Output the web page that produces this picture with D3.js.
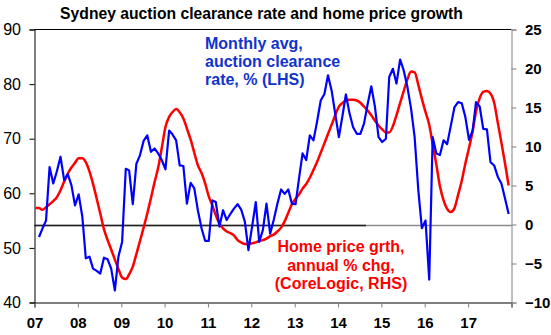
<!DOCTYPE html>
<html><head><meta charset="utf-8">
<script src="https://cdn.jsdelivr.net/npm/d3@7"></script>
<style>body{margin:0;background:#fff}svg{display:block}</style>
</head><body><svg id="c" width="551" height="335"></svg>
<script>
// ---------- data ----------
const title = "Sydney auction clearance rate and home price growth";
const clearanceStart = [2007, 1];   // first month (Feb 2007)
const clearanceRate = [
  52.0,53.5,55.0,64.8,61.8,64.0,66.7,62.4,63.5,61.5,57.8,
  59.8,55.7,48.1,48.4,46.2,45.8,45.3,48.2,47.9,46.2,42.2,48.4,
  51.1,64.5,64.2,58.0,65.4,67.0,69.6,70.6,67.6,68.2,67.3,66.1,
  64.4,71.5,70.8,69.7,65.1,65.0,58.1,61.9,60.9,56.9,53.6,51.3,
  51.3,58.7,58.4,53.9,56.9,55.1,56.2,57.2,58.0,57.0,54.8,49.6,
  53.9,58.4,51.1,53.3,58.1,52.6,55.1,58.1,60.7,59.9,60.7,58.1,
  58.0,63.0,67.3,66.1,70.6,69.7,73.1,77.0,78.2,81.6,78.8,74.6,
  70.3,74.3,78.1,74.6,72.1,70.9,70.9,72.8,76.4,79.6,75.8,70.3,
  69.4,70.0,81.3,82.8,80.1,84.5,82.5,79.5,75.5,70.3,60.6,53.6,
  55.0,44.2,70.3,67.3,67.0,69.7,69.0,72.4,75.8,76.7,76.5,74.0,
  69.8,71.5,76.7,75.9,71.8,71.7,65.7,65.1,63.0,61.8,59.0,56.2
];
const priceStart = [2007, 0];       // first month (Jan 2007)
const priceGrowth = [
  2.1,2.1,1.9,2.2,2.6,3.0,3.5,4.4,5.5,6.5,7.3,7.9,
  8.5,8.5,8.0,6.8,5.2,3.3,1.4,-0.6,-2.0,-3.2,-4.5,-5.7,
  -6.8,-7.0,-6.4,-5.4,-3.8,-2.1,-0.4,1.4,3.4,5.4,7.3,9.8,
  12.5,13.8,14.4,14.8,14.4,13.6,12.3,10.9,9.2,7.6,6.6,5.3,
  3.6,2.4,1.2,0.1,-0.5,-0.9,-1.1,-1.4,-2.0,-2.3,-2.5,-2.5,
  -2.4,-2.3,-2.1,-2.0,-1.8,-1.5,-1.3,-0.9,-0.4,0.4,1.5,2.6,
  3.3,3.9,4.6,5.2,6.0,7.0,8.0,9.2,10.4,11.6,12.8,14.0,
  15.1,15.6,15.9,16.0,16.0,15.9,15.6,15.1,14.6,14.0,13.3,12.7,
  12.2,11.8,11.8,12.6,14.0,15.6,17.1,18.6,19.6,19.5,17.9,16.1,
  14.4,12.8,10.3,7.7,4.9,3.1,2.0,1.6,2.1,3.8,5.6,7.8,
  9.8,12.0,14.5,16.2,17.0,17.1,16.8,15.6,13.0,10.5,7.8,5.0
];
const xTickYears = [2007,2008,2009,2010,2011,2012,2013,2014,2015,2016,2017,2018];
const xTickLabels = ["07","08","09","10","11","12","13","14","15","16","17",""];
const leftTicks = [40,50,60,70,80,90];
const rightTicks = [-10,-5,0,5,10,15,20,25];
const lhsLabel = ["Monthly avg,","auction clearance","rate, % (LHS)"];
const rhsLabel = ["Home price grth,","annual % chg,","(CoreLogic, RHS)"];

// ---------- layout ----------
const FONT = "Arial, 'Liberation Sans', sans-serif";
const L = 34.5, R = 511.5, T = 29.5, B = 302.5;
const BLUE = "#0000ff", RED = "#ff0000";

const svg = d3.select("#c");
const x = d3.scaleTime().domain([new Date(2007,0,1), new Date(2018,0,1)]).range([L, R]);
const yL = d3.scaleLinear().domain([40, 90]).range([B, T]);
const yR = d3.scaleLinear().domain([-10, 25]).range([B, T]);

const monthDate = (start, i) => new Date(start[0], start[1] + i, 8);
const blueData = clearanceRate.map((v,i) => ({d: monthDate(clearanceStart, i), v}));
const redData = priceGrowth.map((v,i) => ({d: monthDate(priceStart, i), v}));

// title
svg.append("text").attr("x", 261.5).attr("y", 19).attr("text-anchor","middle")
  .attr("font-family", FONT).attr("font-weight","bold").attr("font-size", 15.7)
  .attr("fill","#000").text(title);

// top frame
svg.append("line").attr("x1", L).attr("x2", R).attr("y1", T).attr("y2", T)
  .attr("stroke","#000").attr("stroke-width",1);

// zero line (RHS 0)
const y0 = Math.round(yR(0)) + 0.5;
svg.append("line").attr("x1", L).attr("x2", R).attr("y1", y0).attr("y2", y0)
  .attr("stroke","#8c8c8c").attr("stroke-width",1.3);
svg.append("line").attr("x1", L).attr("x2", x(new Date(2014,7,25))).attr("y1", y0).attr("y2", y0)
  .attr("stroke","#222").attr("stroke-width",1.3);

// axes
const gx = svg.append("g").attr("transform",`translate(0,${B})`)
  .call(d3.axisBottom(x).tickValues(xTickYears.map(y=>new Date(y,0,1)))
    .tickFormat((d,i)=>xTickLabels[i]).tickSize(5).tickPadding(9.5));
gx.select(".domain").attr("stroke","#000");
gx.selectAll(".tick line").attr("stroke","#808080");
gx.selectAll("text").attr("font-family",FONT).attr("font-weight","bold").attr("font-size",15).attr("fill","#000");

const gl = svg.append("g").attr("transform",`translate(${L},0)`)
  .call(d3.axisLeft(yL).tickValues(leftTicks).tickFormat(d3.format("d")).tickSize(5).tickPadding(8.5));
gl.select(".domain").attr("stroke","#000");
gl.selectAll(".tick line").attr("stroke","#000");
gl.selectAll("text").attr("font-family",FONT).attr("font-size",16).attr("fill","#000");

const gr = svg.append("g").attr("transform",`translate(${R},0)`)
  .call(d3.axisRight(yR).tickValues(rightTicks).tickFormat(d3.format("d")).tickSize(5).tickPadding(8.5));
gr.select(".domain").attr("stroke","#808080");
gr.selectAll(".tick line").attr("stroke","#808080");
gr.selectAll("text").attr("font-family",FONT).attr("font-weight","bold").attr("font-size",15).attr("fill","#000");
svg.selectAll(".domain").attr("stroke-width",1);

// lines
svg.append("path").datum(redData)
  .attr("d", d3.line().x(d=>x(d.d)).y(d=>yR(d.v)).curve(d3.curveMonotoneX))
  .attr("fill","none").attr("stroke",RED).attr("stroke-width",2.5).attr("stroke-linejoin","round");
svg.append("path").datum(blueData)
  .attr("d", d3.line().x(d=>x(d.d)).y(d=>yL(d.v)))
  .attr("fill","none").attr("stroke",BLUE).attr("stroke-width",2.2).attr("stroke-linejoin","round");

// series labels
const lt = svg.append("text").attr("font-family",FONT).attr("font-weight","bold")
  .attr("font-size",16).attr("fill","#1133cc");
lhsLabel.forEach((s,i)=>lt.append("tspan").attr("x",205).attr("y",49 + i*18).text(s));
const rt = svg.append("text").attr("font-family",FONT).attr("font-weight","bold")
  .attr("font-size",16).attr("fill","#ff0000").attr("text-anchor","middle");
rhsLabel.forEach((s,i)=>rt.append("tspan").attr("x",341).attr("y",251.7 + i*18.8).text(s));
</script></body></html>
